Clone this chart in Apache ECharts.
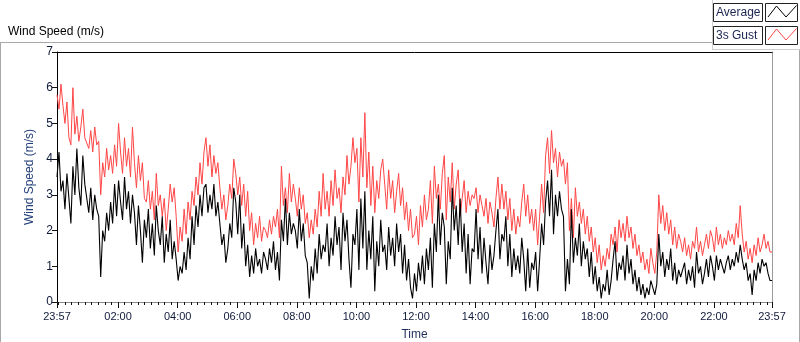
<!DOCTYPE html>
<html>
<head>
<meta charset="utf-8">
<script src="https://cdn.jsdelivr.net/npm/echarts@6/dist/echarts.min.js"></script>
<style>
  html, body { margin: 0; padding: 0; background: #fff; }
  #chart { width: 800px; height: 342px; }
</style>
</head>
<body>
<div id="chart"></div>
<script>
const FONT = '"Liberation Sans", Arial, sans-serif';

// sample times, minutes after midnight (23:57 the day before -> 23:57)
const START_MIN = -3;
const STEP_MIN = 4;

// x-axis labels (minutes)
const majorTicks = [-3, 120, 240, 360, 480, 600, 720, 840, 960, 1080, 1200, 1320, 1437];

// 3s gust, m/s, one row per hour
const gust = [
  5.8,5.4,6.1,5.5,5.0,5.6,4.6,4.4,6.0,4.7,5.2,4.5,4.9,5.4,4.6,
  4.6,4.3,4.8,4.2,4.9,4.4,4.5,3.0,3.9,3.5,4.3,3.7,4.1,3.6,4.4,
  3.8,5.0,4.2,3.6,4.6,3.8,4.3,3.5,4.9,3.9,3.2,4.1,3.4,3.9,2.9,
  2.8,3.4,2.6,3.1,2.3,3.6,2.7,3.0,2.4,2.9,2.0,2.6,3.3,2.8,3.2,
  2.4,1.4,2.1,1.7,2.6,1.9,2.8,2.3,3.1,2.7,3.5,3.0,3.9,3.3,4.2,
  4.6,3.8,4.4,3.5,4.1,3.6,3.9,3.2,2.6,3.0,2.3,2.7,3.3,2.9,4.0,
  3.6,3.0,3.5,2.7,3.3,2.4,3.1,2.0,2.5,1.6,2.2,1.8,2.4,1.7,2.1,
  2.0,1.8,2.3,1.9,2.4,2.1,2.6,1.8,3.8,2.7,3.2,2.5,3.6,2.8,3.3,
  2.9,2.4,3.2,2.6,3.0,2.2,2.5,1.8,2.3,1.9,2.6,2.1,3.1,2.4,3.6,
  2.6,3.1,2.4,3.4,2.7,3.7,2.9,3.2,2.5,3.5,3.0,4.1,3.3,3.8,4.6,
  3.9,4.3,2.8,4.6,3.5,5.3,3.2,4.2,2.7,3.8,2.5,3.4,2.9,3.7,4.0,
  3.3,2.6,3.7,2.9,3.4,2.5,3.1,3.6,2.7,3.2,2.3,2.8,2.0,2.6,1.8,
  1.9,2.4,1.6,2.7,2.1,3.0,2.3,2.6,3.4,2.2,3.8,2.9,3.3,2.6,3.6,
  4.1,2.3,3.5,2.8,3.9,2.6,3.3,3.7,2.4,2.9,3.4,2.5,3.1,2.7,3.0,
  2.9,3.2,2.5,3.0,2.7,2.4,2.9,2.2,2.8,2.5,2.1,2.9,3.5,2.6,3.3,
  2.6,3.1,2.3,2.9,2.0,2.6,1.9,2.4,2.1,2.8,3.3,2.4,3.0,2.2,2.6,
  2.0,2.6,1.6,2.4,3.3,2.5,4.1,4.6,3.6,4.8,3.9,4.3,3.5,4.2,3.8,
  4.0,3.3,3.9,2.0,2.9,1.8,3.2,2.4,2.8,2.2,2.6,1.9,2.4,1.7,2.1,
  1.4,1.8,1.1,1.6,0.9,1.3,1.0,1.5,1.2,1.9,1.6,2.1,1.4,2.3,1.8,
  2.2,1.7,2.4,1.8,2.1,1.5,1.9,1.3,1.6,1.1,1.4,0.9,1.2,0.8,1.5,
  1.1,0.8,1.4,3.0,2.2,2.7,2.0,2.5,1.9,2.3,1.6,2.1,1.5,1.9,1.7,
  1.4,1.8,1.3,1.6,1.2,1.7,1.5,2.1,1.4,1.7,1.3,1.6,1.9,1.5,2.0,
  1.8,1.4,2.1,1.6,1.9,1.5,1.8,1.6,2.0,1.7,1.9,1.6,2.2,1.8,2.7,
  1.9,1.4,1.7,1.2,1.5,1.1,1.6,1.3,1.8,1.4,1.6,1.9,1.5,1.7,1.4,
  1.4
];

// average, m/s
const average = [
  3.5,4.2,3.1,3.4,2.6,3.6,2.9,2.2,3.8,3.0,4.3,3.2,2.7,4.1,3.3,
  2.9,2.5,3.2,2.3,3.0,2.6,2.4,0.7,2.0,1.7,2.5,2.0,2.8,2.2,3.3,
  2.4,3.4,2.8,2.3,3.5,2.6,3.1,2.2,3.0,2.5,1.6,2.7,2.0,1.1,2.3,
  1.8,2.6,1.5,2.2,1.3,2.7,2.0,1.6,2.4,1.1,1.9,1.4,2.3,1.2,1.7,
  1.2,0.6,1.0,0.8,1.4,0.9,1.8,1.2,2.4,1.6,2.7,2.1,3.0,2.4,3.2,
  3.3,2.5,3.0,2.6,3.3,2.4,2.8,2.2,1.6,1.9,1.1,1.5,2.2,1.8,3.2,
  2.8,1.9,3.0,1.5,2.2,1.0,1.6,0.7,1.3,0.8,1.5,1.0,1.2,0.8,1.4,
  1.2,0.9,1.5,1.1,1.7,0.9,1.4,0.6,2.3,1.7,2.9,1.6,2.5,1.9,2.2,
  2.0,1.5,2.6,1.7,2.2,1.3,1.1,0.1,1.0,0.6,1.5,0.8,1.9,1.2,1.6,
  1.4,2.2,1.0,1.8,1.3,2.4,1.6,2.1,0.9,2.5,1.7,2.3,1.2,0.4,1.9,
  1.6,2.6,0.9,2.9,1.5,3.1,0.9,2.0,1.2,2.4,0.3,1.7,1.0,2.3,1.4,
  1.6,0.9,2.1,1.3,1.8,1.0,2.2,1.4,1.9,0.8,1.6,0.6,1.2,0.4,0.1,
  0.8,0.3,1.1,0.6,1.3,0.5,1.5,0.9,1.8,0.4,2.2,1.4,3.0,1.6,2.5,
  2.1,0.5,1.7,1.2,3.2,2.0,2.7,1.6,2.9,1.4,2.2,0.8,1.9,0.5,1.5,
  1.4,2.6,1.2,2.1,0.8,1.8,1.1,0.5,1.6,0.9,1.3,2.0,2.6,1.2,1.9,
  1.7,2.4,1.0,1.9,0.7,1.5,0.9,1.3,0.8,1.8,1.2,0.3,1.5,0.4,1.1,
  0.9,1.4,0.3,1.2,2.2,1.6,2.8,3.4,2.4,3.7,1.9,3.0,2.4,3.1,2.6,
  2.4,0.3,1.2,0.5,2.6,1.1,1.8,1.3,2.2,1.0,1.7,1.2,1.5,0.7,1.4,
  0.5,1.0,0.3,0.7,0.1,0.5,0.3,0.9,0.2,0.6,1.2,1.7,0.6,1.1,0.9,
  1.3,0.6,1.6,0.8,1.2,0.5,0.9,0.3,0.7,0.2,0.5,0.1,0.4,0.2,0.6,
  0.4,0.2,0.5,1.9,1.0,1.4,0.7,1.2,0.9,1.5,0.6,1.1,0.5,0.9,0.7,
  0.7,1.1,0.5,0.9,0.6,1.0,0.4,1.4,0.8,1.0,0.5,0.8,1.2,0.7,1.3,
  1.0,0.6,1.3,0.9,1.2,1.0,0.8,1.1,1.3,0.9,1.2,1.0,1.4,1.1,1.6,
  1.2,0.9,1.1,0.6,0.8,0.2,0.9,0.6,1.1,0.8,1.2,1.0,1.1,0.8,0.6,
  0.6
];

const times = average.map((_, i) => START_MIN + i * STEP_MIN);
const toPairs = (arr) => arr.map((v, i) => [times[i], v]);

// minor ticks every 2h/9 from midnight, skipping the labelled ones
const minorTicks = [];
for (let k = 0; k * 40 / 3 <= 1437; k++) {
  const v = k * 40 / 3;
  if (!majorTicks.some((m) => Math.abs(m - v) < 0.5)) minorTicks.push(v);
}

function fmtTime(v) {
  const m = ((Math.round(v) % 1440) + 1440) % 1440;
  const h = Math.floor(m / 60), mm = m % 60;
  return String(h).padStart(2, "0") + ":" + String(mm).padStart(2, "0");
}

const chart = echarts.init(document.getElementById("chart"), null, { renderer: "canvas" });

const xBase = { type: "value", min: -3, max: 1437, gridIndex: 0, splitLine: { show: false } };

chart.setOption({
  animation: false,
  backgroundColor: "#fff",
  title: {
    text: "Wind Speed (m/s)",
    left: 3, top: 21,
    textStyle: { fontFamily: FONT, fontSize: 12, fontWeight: "normal", color: "#000" },
  },
  grid: { left: 57, right: 28, top: 52, bottom: 40, show: false, outerBoundsMode: "none", containLabel: false },
  xAxis: [
    {
      ...xBase,
      position: "bottom",
      name: "Time",
      nameLocation: "middle",
      nameGap: 27,
      nameTextStyle: { fontFamily: FONT, fontSize: 12, color: "#1f2d5c" },
      axisLine: { show: true, onZero: false, lineStyle: { color: "#8c8c8c", width: 1 } },
      axisTick: { show: true, length: 6, customValues: majorTicks, lineStyle: { color: "#111" } },
      axisLabel: {
        customValues: majorTicks, margin: 9,
        fontFamily: FONT, fontSize: 11, color: "#101a3a",
        formatter: fmtTime,
      },
    },
    {
      ...xBase,
      position: "bottom",
      axisLine: { show: false, onZero: false },
      axisTick: { show: true, length: 3, customValues: minorTicks, lineStyle: { color: "#111" } },
      axisLabel: { show: false },
    },
    {
      ...xBase,
      position: "top",
      axisLine: { show: true, onZero: false, lineStyle: { color: "#000", width: 1 } },
      axisTick: { show: false },
      axisLabel: { show: false },
    },
  ],
  yAxis: [
    {
      type: "value",
      min: 0, max: 7, interval: 1,
      name: "Wind Speed (m/s)",
      nameLocation: "middle",
      nameGap: 21,
      nameTextStyle: { fontFamily: FONT, fontSize: 12, color: "#24407a" },
      axisLine: { show: true, onZero: false, lineStyle: { color: "#000", width: 1 } },
      axisTick: { show: true, length: 5, lineStyle: { color: "#111" } },
      axisLabel: { margin: 4, fontFamily: FONT, fontSize: 12, color: "#101a3a" },
      splitLine: { show: false },
    },
    {
      type: "value",
      min: 0, max: 7,
      position: "right",
      axisLine: { show: true, onZero: false, lineStyle: { color: "#9a9a9a", width: 1 } },
      axisTick: { show: false },
      axisLabel: { show: false },
      splitLine: { show: false },
    },
  ],
  series: [
    {
      name: "3s Gust",
      type: "line",
      xAxisIndex: 0, yAxisIndex: 0,
      data: toPairs(gust),
      showSymbol: false,
      lineStyle: { color: "#ff4646", width: 1 },
      itemStyle: { color: "#ff4646" },
      z: 2,
    },
    {
      name: "Average",
      type: "line",
      xAxisIndex: 0, yAxisIndex: 0,
      data: toPairs(average),
      showSymbol: false,
      lineStyle: { color: "#000", width: 1.1 },
      itemStyle: { color: "#000" },
      z: 3,
    },
  ],
  graphic: [
    // outer panel frame
    { type: "line", shape: { x1: 0, y1: 42.5, x2: 712, y2: 42.5 }, style: { stroke: "#a8a8a8", lineWidth: 1 } },
    { type: "line", shape: { x1: 0.5, y1: 42, x2: 0.5, y2: 342 }, style: { stroke: "#a8a8a8", lineWidth: 1 } },
    { type: "line", shape: { x1: 799.5, y1: 49, x2: 799.5, y2: 342 }, style: { stroke: "#a8a8a8", lineWidth: 1 } },
    // legend panel
    { type: "line", shape: { x1: 712.5, y1: 0, x2: 712.5, y2: 49 }, style: { stroke: "#d0d0d0", lineWidth: 1 } },
    { type: "line", shape: { x1: 712, y1: 49.5, x2: 800, y2: 49.5 }, style: { stroke: "#d0d0d0", lineWidth: 1 } },
    { type: "rect", shape: { x: 713.5, y: 3.5, width: 49, height: 18 }, style: { fill: "#fff", stroke: "#222", lineWidth: 1 } },
    { type: "text", x: 716, y: 13, style: { text: "Average", font: "12px " + FONT, fill: "#1a2450", textVerticalAlign: "middle" } },
    { type: "rect", shape: { x: 765.5, y: 3.5, width: 32, height: 18 }, style: { fill: "#fff", stroke: "#222", lineWidth: 1 } },
    { type: "polyline", shape: { points: [[768, 17], [776.5, 6], [786, 17], [796.5, 5.5]] }, style: { stroke: "#000", lineWidth: 1, fill: null } },
    { type: "rect", shape: { x: 713.5, y: 26.5, width: 49, height: 18 }, style: { fill: "#fff", stroke: "#222", lineWidth: 1 } },
    { type: "text", x: 716, y: 36, style: { text: "3s Gust", font: "12px " + FONT, fill: "#1a2450", textVerticalAlign: "middle" } },
    { type: "rect", shape: { x: 765.5, y: 26.5, width: 32, height: 18 }, style: { fill: "#fff", stroke: "#222", lineWidth: 1 } },
    { type: "polyline", shape: { points: [[768, 40], [776.5, 29], [786, 40], [796.5, 28.5]] }, style: { stroke: "#ff4646", lineWidth: 1, fill: null } },
  ],
});
</script>
</body>
</html>
